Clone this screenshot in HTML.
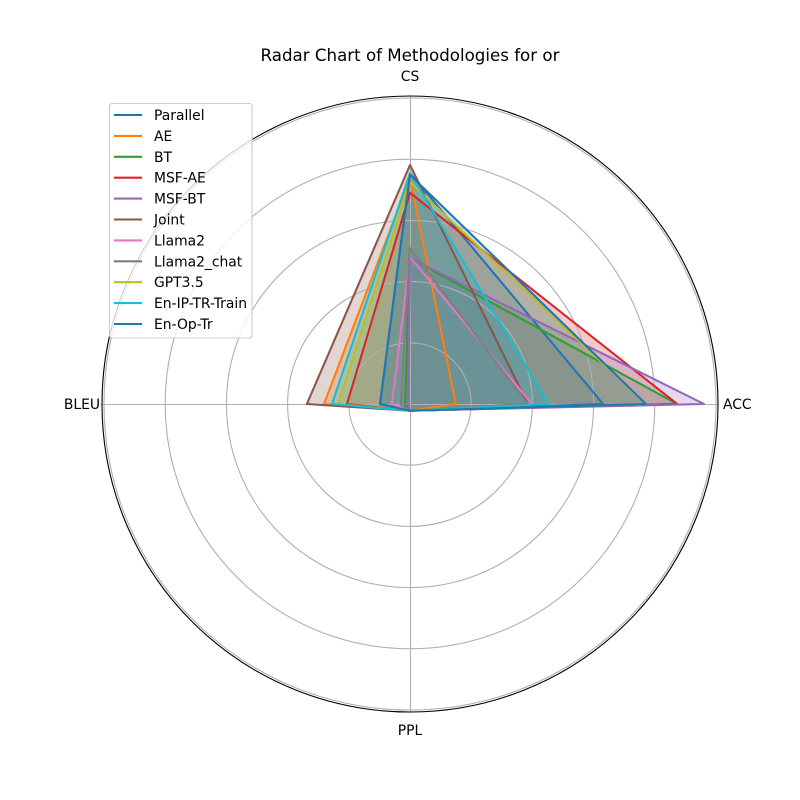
<!DOCTYPE html>
<html>
<head>
<meta charset="utf-8">
<title>Radar Chart of Methodologies for or</title>
<style>
html,body{margin:0;padding:0;background:#fff;}
svg{display:block;}
text{font-family:"DejaVu Sans","Liberation Sans",sans-serif;fill:#000;}
</style>
</head>
<body>
<svg id="chart" xmlns="http://www.w3.org/2000/svg" width="800" height="800" viewBox="0 0 800 800">
<text x="410" y="61" font-size="16.67" text-anchor="middle">Radar Chart of Methodologies for or</text>
</svg>
<script>
const axisLabels = ['ACC', 'CS', 'BLEU', 'PPL'];
const ringTicks = [0.2, 0.4, 0.6, 0.8, 1.0];
const seriesNames = ['Parallel', 'AE', 'BT', 'MSF-AE', 'MSF-BT', 'Joint', 'Llama2', 'Llama2_chat', 'GPT3.5', 'En-IP-TR-Train', 'En-Op-Tr'];
const seriesColors = ['#1f77b4', '#ff7f0e', '#2ca02c', '#d62728', '#9467bd', '#8c564b', '#e377c2', '#7f7f7f', '#bcbd22', '#17becf', '#1f77b4'];
const valuesParallel = [0.631, 0.755, 0.098, 0.022];
const valuesAE = [0.150, 0.739, 0.281, 0.022];
const valuesBT = [0.873, 0.477, 0.016, 0.022];
const valuesMSFAE = [0.873, 0.690, 0.206, 0.022];
const valuesMSFBT = [0.961, 0.477, 0.006, 0.022];
const valuesJoint = [0.385, 0.781, 0.337, 0.022];
const valuesLlama2 = [0.399, 0.480, 0.059, 0.022];
const valuesLlama2Chat = [0.385, 0.510, 0.030, 0.022];
const valuesGPT35 = [0.771, 0.725, 0.235, 0.022];
const valuesEnIP = [0.454, 0.755, 0.255, 0.022];
const valuesEnOp = [0.771, 0.749, 0.098, 0.022];
const seriesValues = [valuesParallel, valuesAE, valuesBT, valuesMSFAE, valuesMSFBT, valuesJoint, valuesLlama2, valuesLlama2Chat, valuesGPT35, valuesEnIP, valuesEnOp];

const NS = 'http://www.w3.org/2000/svg';
const svg = document.getElementById('chart');
const cx = 410, cy = 404, unit = 306, spineR = 308;
function rScale(v) { return v * unit; }
function angleOf(i) { return i * 2 * Math.PI / axisLabels.length; }
function px(i, r) { return cx + r * Math.cos(angleOf(i)); }
function py(i, r) { return cy - r * Math.sin(angleOf(i)); }
function make(tag, attrs) {
  const el = document.createElementNS(NS, tag);
  for (const k in attrs) el.setAttribute(k, attrs[k]);
  return el;
}
function pointsOf(vals) {
  return vals.map(function (v, i) { return px(i, rScale(v)).toFixed(2) + ',' + py(i, rScale(v)).toFixed(2); }).join(' ');
}

seriesValues.forEach(function (vals, s) {
  const fill = make('polygon', {points: pointsOf(vals), fill: seriesColors[s], 'fill-opacity': 0.25, stroke: 'none'});
  
  
  svg.appendChild(fill);
});

ringTicks.forEach(function (t) {
  const ring = make('circle', {cx: cx, cy: cy, r: rScale(t), fill: 'none', stroke: '#b0b0b0', 'stroke-width': 1.11});
  
  
  svg.appendChild(ring);
});

axisLabels.forEach(function (label, i) {
  const spoke = make('line', {x1: cx + 0.5, y1: cy + 0.5, x2: px(i, spineR) + 0.5, y2: py(i, spineR) + 0.5, stroke: '#b0b0b0', 'stroke-width': 1.11});
  
  
  svg.appendChild(spoke);
});

seriesValues.forEach(function (vals, s) {
  const line = make('polygon', {points: pointsOf(vals), fill: 'none', stroke: seriesColors[s], 'stroke-width': 2.08, 'stroke-linejoin': 'round'});
  
  
  svg.appendChild(line);
});

const spine = make('circle', {cx: cx, cy: cy, r: spineR, fill: 'none', stroke: '#000', 'stroke-width': 1.11});


svg.appendChild(spine);

const labelOffsetX = [313, 0, -310, 0];
const labelOffsetY = [5, -323, 5, 331];
const labelAnchor = ['start', 'middle', 'end', 'middle'];
axisLabels.forEach(function (label, i) {
  const t = make('text', {x: cx + labelOffsetX[i], y: cy + labelOffsetY[i], 'font-size': 13.89, 'text-anchor': labelAnchor[i]});
  t.textContent = label;
  
  
  svg.appendChild(t);
});

const legendBox = make('rect', {x: 109.5, y: 103.5, width: 142.5, height: 234.5, rx: 2.8, ry: 2.8, fill: '#fff', 'fill-opacity': 0.8, stroke: '#cccccc', 'stroke-width': 1.11});


svg.appendChild(legendBox);

seriesNames.forEach(function (name, s) {
  const y = 115 + s * 20.9;
  const swatch = make('line', {x1: 114, y1: y, x2: 142, y2: y, stroke: seriesColors[s], 'stroke-width': 2.08});
  
  
  svg.appendChild(swatch);
  const t = make('text', {x: 154, y: y + 5, 'font-size': 13.89});
  t.textContent = name;
  
  
  svg.appendChild(t);
});
</script>
</body>
</html>
